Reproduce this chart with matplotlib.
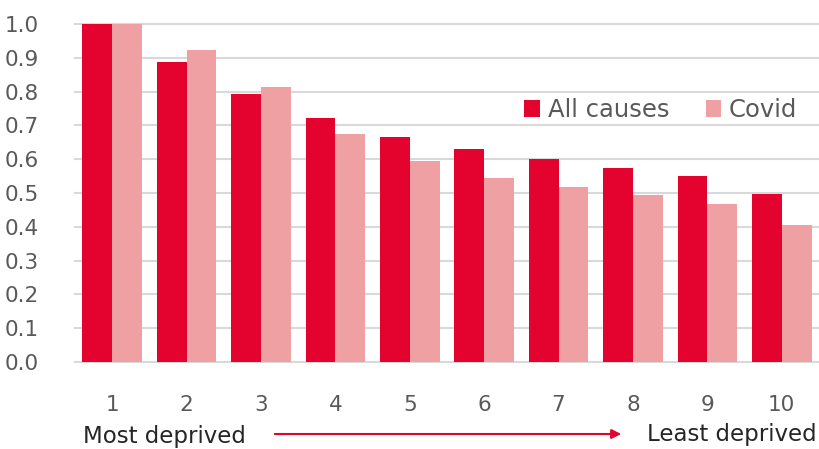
import matplotlib.pyplot as plt
import numpy as np

deciles = ['1', '2', '3', '4', '5', '6', '7', '8', '9', '10']
all_causes = [1.0, 0.888, 0.793, 0.721, 0.667, 0.631, 0.601, 0.574, 0.550, 0.498]
covid = [1.0, 0.923, 0.814, 0.675, 0.595, 0.544, 0.517, 0.494, 0.467, 0.405]

red = '#E4032E'
pink = '#EFA0A2'
grey = '#595959'

plt.rcParams['font.family'] = ['DejaVu Sans']

fig = plt.figure(figsize=(8.19, 4.49), dpi=100)
ax = fig.add_axes([0.0916, 0.194, 0.9084, 0.7526])

x = np.arange(len(deciles))
w = 0.4
ax.bar(x - w / 2, all_causes, w, color=red, label='All causes', zorder=3)
ax.bar(x + w / 2, covid, w, color=pink, label='Covid', zorder=3)

ax.set_xlim(-0.5, len(deciles) - 0.5)
ax.set_ylim(0, 1.0)
ax.set_yticks(np.arange(0, 1.01, 0.1))
ax.set_yticklabels([f'{v:.1f}' for v in np.arange(0, 1.01, 0.1)])
ax.set_xticks(x)
ax.set_xticklabels(deciles)
ax.grid(axis='y', color='#D9D9D9', linewidth=1.5, zorder=0)
for gl in ax.get_ygridlines():
    gl.set_clip_on(False)
ax.tick_params(axis='both', length=0, labelsize=15.5, labelcolor=grey)
ax.tick_params(axis='y', pad=26)
ax.tick_params(axis='x', pad=24)
for s in ax.spines.values():
    s.set_visible(False)

ax.legend(loc='center right', bbox_to_anchor=(0.99, 0.745), ncol=2, frameon=False,
          fontsize=17.5, labelcolor=grey, handlelength=0.65, handleheight=0.65,
          handletextpad=0.3, columnspacing=1.5, borderaxespad=0.2)

fig.text(83 / 819, 1 - 437 / 449, 'Most deprived', fontsize=16.5, color='#262626',
         ha='left', va='center')
fig.text(817 / 819, 1 - 434 / 449, 'Least deprived', fontsize=16.5, color='#262626',
         ha='right', va='center')
fig.add_artist(plt.matplotlib.patches.FancyArrowPatch(
    (272 / 819, 1 - 434 / 449), (624 / 819, 1 - 434 / 449),
    transform=fig.transFigure, arrowstyle='-|>', mutation_scale=14,
    color=red, linewidth=1.5))

fig.savefig('out.png', dpi=100)
